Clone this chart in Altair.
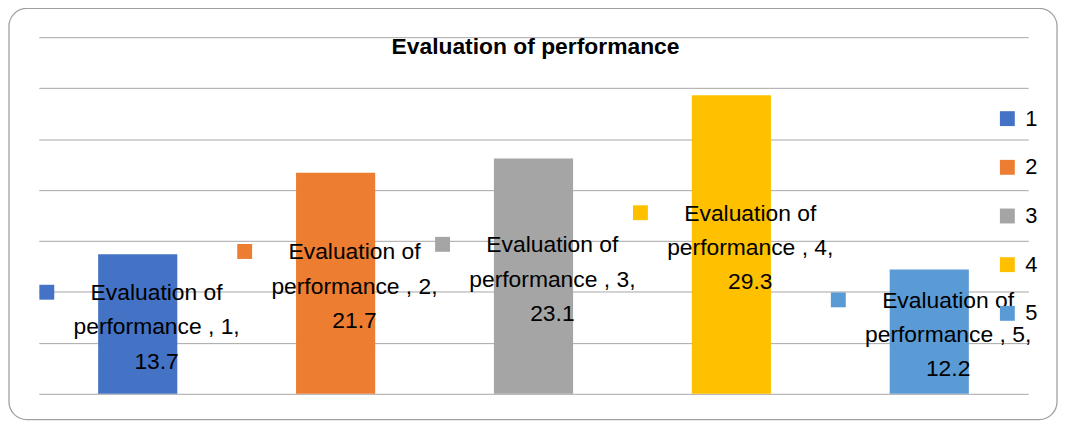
import altair as alt
import pandas as pd

categories = ["1", "2", "3", "4", "5"]
values = [13.7, 21.7, 23.1, 29.3, 12.2]
series_name = "Evaluation of performance "
chart_title = "Evaluation of performance"
colors = ["#4472C4", "#ED7D31", "#A5A5A5", "#FFC000", "#5B9BD5"]

df = pd.DataFrame({"cat": categories, "value": values})
df["label"] = [
    f"Evaluation of\nperformance , {c},\n{v}" for c, v in zip(categories, values)
]

FONT = "Liberation Sans"

xenc = alt.X(
    "cat:N",
    sort=categories,
    scale=alt.Scale(paddingInner=0.6, paddingOuter=0.3),
    axis=None,
)
yscale = alt.Scale(domain=[0, 35], nice=False)
color = alt.Color(
    "cat:N",
    sort=categories,
    scale=alt.Scale(domain=categories, range=colors),
    legend=alt.Legend(
        title=None,
        orient="none",
        legendX=964,
        legendY=71,
        symbolType="square",
        symbolSize=225,
        symbolStrokeWidth=0,
        labelFontSize=22,
        labelFont=FONT,
        labelColor="#000000",
        labelOffset=7,
        rowPadding=27,
        padding=0,
    ),
)

border = alt.Chart(alt.Data(values=[{"a": 1}])).mark_rect(
    fill="transparent", stroke="#a0a0a0", strokeWidth=1.3, cornerRadius=18
).encode(
    x=alt.value(-30), x2=alt.value(1025), y=alt.value(-29), y2=alt.value(385)
)

title = alt.Chart(alt.Data(values=[{"t": chart_title}])).mark_text(
    font=FONT, fontSize=23, fontWeight="bold", color="#000000",
    align="center", baseline="alphabetic",
).encode(x=alt.value(500), y=alt.value(17), text="t:N")

base = alt.Chart(df)

bars = base.mark_bar().encode(
    x=xenc,
    y=alt.Y(
        "value:Q",
        scale=yscale,
        axis=alt.Axis(
            values=[0, 5, 10, 15, 20, 25, 30, 35],
            labels=False,
            ticks=False,
            domain=False,
            title=None,
            grid=True,
            gridColor="#a6a6a6",
            gridWidth=1,
        ),
    ),
    color=color,
)

mid = base.transform_calculate(half="datum.value / 2")

labels = mid.mark_text(
    align="center",
    baseline="middle",
    lineBreak="\n",
    lineHeight=34.5,
    fontSize=23,
    font=FONT,
    color="#000000",
    dx=19,
    dy=-31,
).encode(
    x=xenc,
    y=alt.Y("half:Q", scale=yscale),
    text="label:N",
)

markers = mid.mark_point(
    shape="square", filled=True, size=225, opacity=1
).encode(
    x=xenc,
    y=alt.Y("half:Q", scale=yscale),
    xOffset=alt.value(-51.7),
    yOffset=alt.value(-32),
    color=color,
)

chart = alt.layer(border, bars, labels, markers, title).properties(
    width=996,
    height=359,
    padding={"left": 31, "top": 28, "right": 30, "bottom": 26},
    autosize=alt.AutoSizeParams(type="none"),
).configure_view(stroke=None)

chart.save("out.html", embed_options={"renderer": "svg", "actions": False})
